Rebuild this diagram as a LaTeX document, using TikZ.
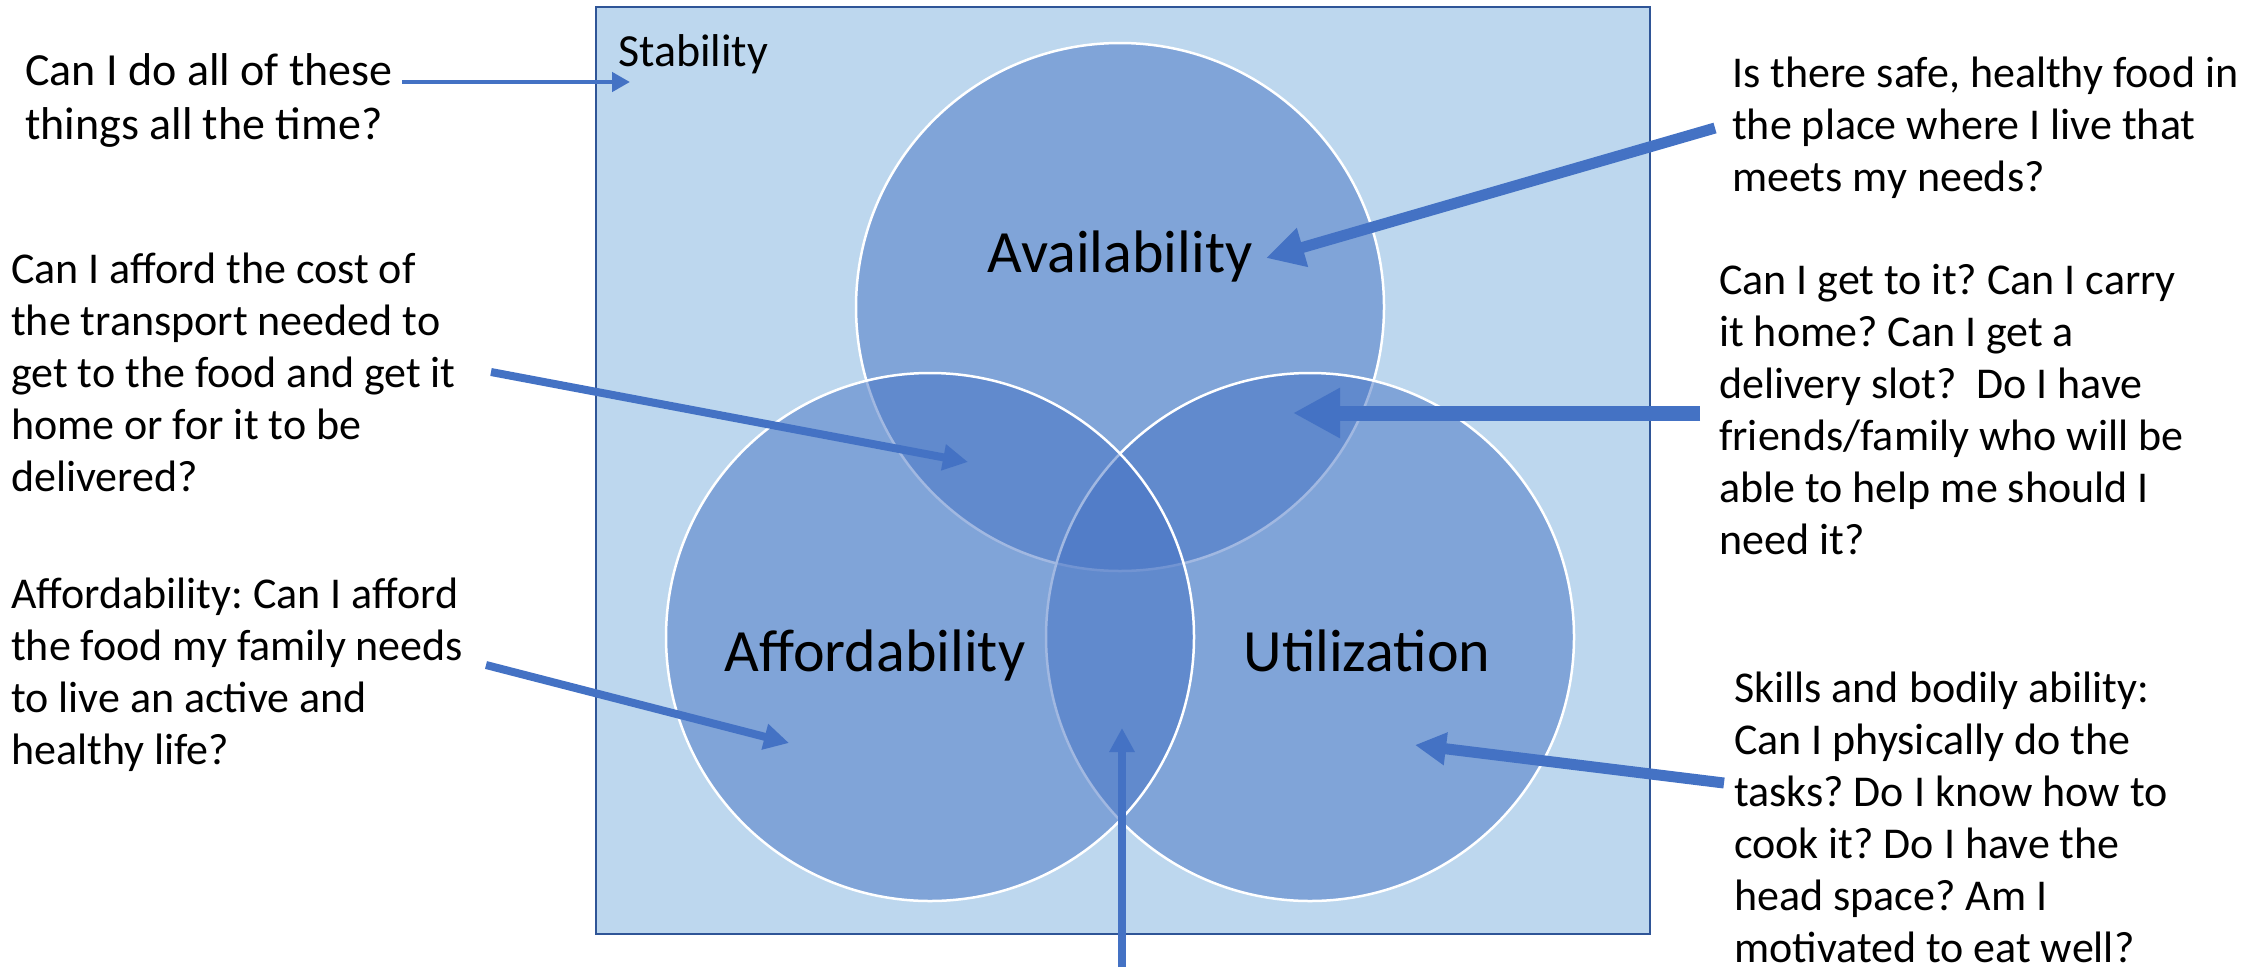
\documentclass[tikz,border=0pt]{standalone}
\usepackage{fontspec}
\setmainfont{Carlito}
\usetikzlibrary{arrows.meta}
\definecolor{boxfill}{HTML}{BDD7EE}
\definecolor{boxline}{HTML}{2F5597}
\definecolor{accent}{HTML}{4472C4}
% fixed height for the first line of every question block
\newcommand\firstline{\rule{0pt}{40pt}}
\frenchspacing

\begin{document}
\begin{tikzpicture}[x=1pt,y=-1pt,
  note/.style={anchor=north west, inner sep=0pt, align=left,
               font=\fontsize{44}{52}\selectfont},
  ring/.style={circle, minimum size=528pt, inner sep=0pt, fill=accent,
               fill opacity=0.5, draw=white, line width=2.5pt},
  ringlabel/.style={anchor=base, inner sep=0pt, font=\fontsize{60}{72}\selectfont},
  pointer/.style={draw=accent, line cap=butt}
]
\useasboundingbox (0,0) rectangle (2267,967);

% stability frame
\node[draw=boxline, fill=boxfill, line width=2pt, minimum width=1054pt,
      minimum height=927pt, inner sep=0pt] (frame) at (1123,470.5) {};
\node[anchor=base west, inner sep=0pt, font=\fontsize{46}{54}\selectfont]
      (stab) at (618,66) {Stability};

% the three pillars
\node[ring] (avail) at (1120,307) {};
\node[ring] (util)  at (1310,637) {};
\node[ring] (afford) at (930,637) {};

\node[ringlabel] (availtxt)  at (1120,272) {Availability};
\node[ringlabel] (affordtxt) at (875,671) {Affordability};
\node[ringlabel] (utiltxt)   at (1367,671) {Utilization};

% questions
\node[note, font=\fontsize{46}{54}\selectfont] (q1) at (25,45)
  {\firstline Can I do all of these\\things all the time?};
\node[note] (q2) at (11,243)
  {\firstline Can I afford the cost of\\the transport needed to\\get to the food and get it\\home or for it to be\\delivered?};
\node[note] (q3) at (11,568)
  {\firstline Affordability: Can I afford\\the food my family needs\\to live an active and\\healthy life?};
\node[note] (q4) at (1732,47)
  {\firstline Is there safe, healthy food in\\the place where I live that\\meets my needs?};
\node[note] (q5) at (1719,254)
  {\firstline Can I get to it? Can I carry\\it home? Can I get a\\delivery slot?\ \ Do I have\\friends/family who will be\\able to help me should I\\need it?};
\node[note] (q6) at (1734,662)
  {\firstline Skills and bodily ability:\\Can I physically do the\\tasks? Do I know how to\\cook it? Do I have the\\head space? Am I\\motivated to eat well?};

% arrow ends
\coordinate (s1) at (402,82);   \coordinate (e1) at (630,82);
\coordinate (s2) at (491,372);  \coordinate (e2) at (968,462);
\coordinate (s3) at (486,665);  \coordinate (e3) at (789,743);
\coordinate (s4) at (1715,128); \coordinate (e4) at (1266,258);
\coordinate (s5) at (1700,413); \coordinate (e5) at (1293,413);
\coordinate (s6) at (1724,783); \coordinate (e6) at (1415,745);
\coordinate (s7) at (1122,967); \coordinate (e7) at (1122,728);

\draw[pointer, line width=4.5pt, -{Triangle[length=18pt,width=19pt]}] (s1) -- (e1);
\draw[pointer, line width=8pt, -{Triangle[length=25pt,width=25pt]}] (s2) -- (e2);
\draw[pointer, line width=8pt, -{Triangle[length=25pt,width=25pt]}] (s3) -- (e3);
\draw[pointer, line width=11pt, -{Triangle[length=38pt,width=38pt]}] (s4) -- (e4);
\draw[pointer, line width=15pt, -{Triangle[length=47pt,width=47pt]}] (s5) -- (e5);
\draw[pointer, line width=11pt, -{Triangle[length=31pt,width=31pt]}] (s6) -- (e6);
\draw[pointer, line width=8pt, -{Triangle[length=24pt,width=24pt]}] (s7) -- (e7);
\end{tikzpicture}
\end{document}
